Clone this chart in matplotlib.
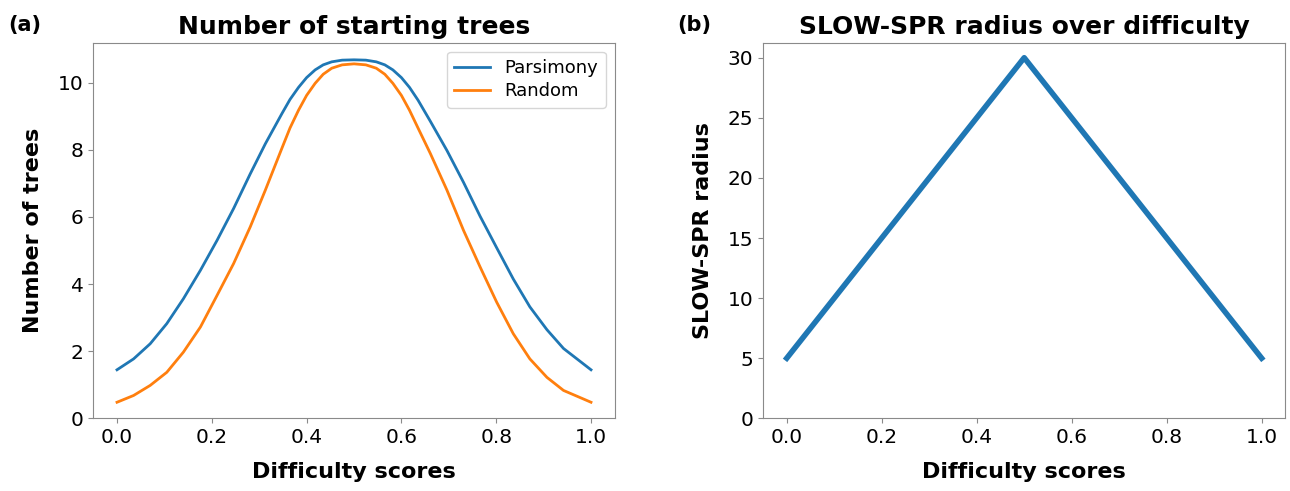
import matplotlib
matplotlib.use("Agg")
import matplotlib.pyplot as plt

# ---- data ----
pars_x = [0.0, 0.035, 0.070, 0.105, 0.140, 0.176, 0.211, 0.246, 0.281, 0.313,
          0.348, 0.365, 0.383, 0.400, 0.418, 0.435, 0.453, 0.475, 0.500, 0.525,
          0.547, 0.565, 0.582, 0.600, 0.617, 0.635, 0.661, 0.696,
          0.731, 0.766, 0.801, 0.836, 0.871, 0.907, 0.942, 1.0]
pars_y = [1.445, 1.77, 2.22, 2.82, 3.56, 4.41, 5.30, 6.25, 7.28, 8.18,
          9.08, 9.50, 9.86, 10.15, 10.38, 10.53, 10.62, 10.67, 10.68, 10.67,
          10.62, 10.53, 10.38, 10.15, 9.86, 9.48, 8.85, 7.98,
          7.03, 6.02, 5.08, 4.15, 3.32, 2.64, 2.08, 1.445]

rand_x = [0.0, 0.035, 0.070, 0.105, 0.140, 0.176, 0.211, 0.246, 0.281, 0.313,
          0.348, 0.365, 0.383, 0.400, 0.418, 0.435, 0.453, 0.475, 0.500, 0.525,
          0.547, 0.565, 0.582, 0.600, 0.617, 0.635, 0.661, 0.696,
          0.731, 0.766, 0.801, 0.836, 0.871, 0.907, 0.942, 1.0]
rand_y = [0.478, 0.68, 0.98, 1.37, 1.97, 2.72, 3.66, 4.61, 5.70, 6.80,
          8.05, 8.65, 9.18, 9.62, 9.98, 10.25, 10.43, 10.53, 10.56, 10.53,
          10.43, 10.25, 9.98, 9.62, 9.18, 8.65, 7.89, 6.80,
          5.60, 4.51, 3.46, 2.52, 1.77, 1.22, 0.83, 0.478]

slow_x = [0.0, 0.5, 1.0]
slow_y = [5, 30, 5]

series_labels = ["Parsimony", "Random"]
titles = ["Number of starting trees", "SLOW-SPR radius over difficulty"]
xlabel = "Difficulty scores"
ylabels = ["Number of trees", "SLOW-SPR radius"]
panel_tags = ["(a)", "(b)"]

# ---- figure ----
plt.rcParams['font.family'] = ['DejaVu Sans']
fig = plt.figure(figsize=(12.9, 4.91), dpi=100)
ax1 = fig.add_axes([0.07233, 0.14807, 0.40419, 0.76497])
ax2 = fig.add_axes([0.59147, 0.14807, 0.40496, 0.76497])

spine_col = '#8a8a8a'
TICK_FS = 14.5
LABEL_FS = 16
TITLE_FS = 18

ax1.plot(pars_x, pars_y, color='#1f77b4', lw=2.0, label=series_labels[0],
         solid_joinstyle='round')
ax1.plot(rand_x, rand_y, color='#ff7f0e', lw=2.0, label=series_labels[1],
         solid_joinstyle='round')
ax1.set_ylim(bottom=0)

ax2.plot(slow_x, slow_y, color='#1f77b4', lw=4.0)
ax2.set_ylim(bottom=0)

for i, ax in enumerate([ax1, ax2]):
    ax.set_title(titles[i], fontsize=TITLE_FS, fontweight='bold')
    ax.set_xlabel(xlabel, fontsize=LABEL_FS, fontweight='bold', labelpad=11)
    ax.set_ylabel(ylabels[i], fontsize=LABEL_FS, fontweight='bold', labelpad=10.5)
    ax.tick_params(labelsize=TICK_FS, color=spine_col)
    for sp in ax.spines.values():
        sp.set_color(spine_col)
    ax.set_xticks([0.0, 0.2, 0.4, 0.6, 0.8, 1.0])

leg = ax1.legend(fontsize=13, labelspacing=0.3, loc='upper right')

fig.text(8 / 1290, 1 - 30.5 / 491, panel_tags[0], fontsize=15, fontweight='bold')
fig.text(677 / 1290, 1 - 30.5 / 491, panel_tags[1], fontsize=15, fontweight='bold')

fig.savefig("out.png", dpi=100)
